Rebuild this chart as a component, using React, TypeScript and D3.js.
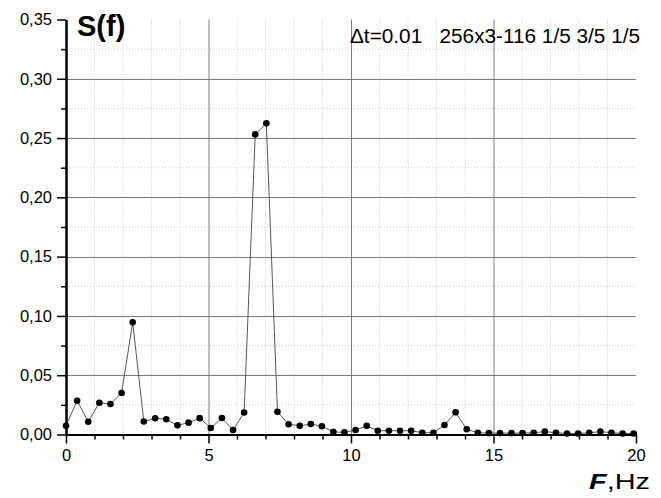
import * as d3 from 'd3';
import React, { useRef, useEffect } from 'react';

// spectrum S(f), df = 1/(256*0.01) Hz
const freqs = [
  0, 0.39, 0.78, 1.17, 1.56, 1.95, 2.34, 2.73, 3.13, 3.52, 3.91, 4.3, 4.69,
  5.08, 5.47, 5.86, 6.25, 6.64, 7.03, 7.42, 7.81, 8.2, 8.59, 8.98, 9.38, 9.77,
  10.16, 10.55, 10.94, 11.33, 11.72, 12.11, 12.5, 12.89, 13.28, 13.67, 14.06,
  14.45, 14.84, 15.23, 15.63, 16.02, 16.41, 16.8, 17.19, 17.58, 17.97, 18.36,
  18.75, 19.14, 19.53, 19.92,
];
const spectrum = [
  0.0074, 0.0285, 0.0108, 0.0268, 0.0257, 0.035, 0.0946, 0.011, 0.0137,
  0.0128, 0.0077, 0.01, 0.0138, 0.0055, 0.0139, 0.0037, 0.0186, 0.2531,
  0.2624, 0.0191, 0.0086, 0.0073, 0.0088, 0.007, 0.0022, 0.0018, 0.0038,
  0.0073, 0.0032, 0.0032, 0.0032, 0.0032, 0.0015, 0.0015, 0.008, 0.0187,
  0.0044, 0.0015, 0.0012, 0.0012, 0.0012, 0.0012, 0.0015, 0.0024, 0.0015,
  0.0009, 0.0009, 0.0015, 0.0024, 0.0015, 0.0009, 0.0009,
];
const xMajor = [0, 5, 10, 15, 20];
const xMinor = [1, 2, 3, 4, 6, 7, 8, 9, 11, 12, 13, 14, 16, 17, 18, 19];
const yMajor = [0, 0.05, 0.1, 0.15, 0.2, 0.25, 0.3, 0.35];
const yMinor = [0.025, 0.075, 0.125, 0.175, 0.225, 0.275, 0.325];

const W = 661;
const H = 498;
const FONT = "Arial, 'Liberation Sans', sans-serif";

function Chart() {
  const ref = useRef<SVGSVGElement>(null);

  useEffect(() => {
    const svg = d3.select(ref.current);
    svg.selectAll('*').remove();

    const x = d3.scaleLinear().domain([0, 20]).range([66, 636]);
    const y = d3.scaleLinear().domain([0, 0.35]).range([434.5, 19.5]);
    const fmt = d3
      .formatLocale({ decimal: ',', thousands: ' ', grouping: [3], currency: ['', ''] })
      .format('.2f');

    // minor dotted grid
    const g = svg.append('g');
    g.selectAll('.vmin')
      .data(xMinor)
      .enter()
      .append('line')
      .attr('x1', d => x(d))
      .attr('x2', d => x(d))
      .attr('y1', y(0.35))
      .attr('y2', y(0))
      .attr('stroke', '#c8c8c8')
      .attr('stroke-dasharray', '1,2');
    g.selectAll('.hmin')
      .data(yMinor)
      .enter()
      .append('line')
      .attr('x1', x(0))
      .attr('x2', x(20))
      .attr('y1', d => y(d))
      .attr('y2', d => y(d))
      .attr('stroke', '#c8c8c8')
      .attr('stroke-dasharray', '1,2');

    // major grid
    g.selectAll('.vmaj')
      .data([5, 10, 15])
      .enter()
      .append('line')
      .attr('x1', d => x(d) + 0.5)
      .attr('x2', d => x(d) + 0.5)
      .attr('y1', y(0.35))
      .attr('y2', y(0))
      .attr('stroke', '#7a7a7a');
    g.selectAll('.hmaj')
      .data([0.05, 0.1, 0.15, 0.2, 0.25, 0.3])
      .enter()
      .append('line')
      .attr('x1', x(0))
      .attr('x2', x(20))
      .attr('y1', d => Math.round(y(d)) + 0.5)
      .attr('y2', d => Math.round(y(d)) + 0.5)
      .attr('stroke', '#7a7a7a');

    // data line + points
    const pts = freqs.map((f, i) => [f, spectrum[i]] as [number, number]);
    const line = d3
      .line<[number, number]>()
      .x(d => x(d[0]))
      .y(d => y(d[1]));
    svg
      .append('path')
      .datum(pts)
      .attr('d', line)
      .attr('fill', 'none')
      .attr('stroke', '#555')
      .attr('stroke-width', 1);
    svg
      .append('g')
      .selectAll('circle')
      .data(pts)
      .enter()
      .append('circle')
      .attr('cx', d => x(d[0]))
      .attr('cy', d => y(d[1]))
      .attr('r', 3.3)
      .attr('fill', '#000');

    // axes
    const styleAxis = sel => {
      sel.select('.domain').attr('stroke', '#000').attr('stroke-width', 2);
      sel.selectAll('.tick line').attr('stroke', '#000').attr('stroke-width', 1.5);
      sel.selectAll('text').attr('font-family', FONT).attr('font-size', 16.5).attr('fill', '#000');
    };
    svg
      .append('g')
      .attr('transform', `translate(0,${y(0)})`)
      .call(d3.axisBottom(x).tickValues(xMinor).tickSize(5).tickSizeOuter(0).tickFormat(() => ''))
      .call(styleAxis);
    svg
      .append('g')
      .attr('transform', `translate(0,${y(0)})`)
      .call(d3.axisBottom(x).tickValues(xMajor).tickSize(9).tickSizeOuter(0).tickPadding(6).tickFormat(d3.format('d')))
      .call(styleAxis);
    svg
      .append('g')
      .attr('transform', `translate(${x(0)},0)`)
      .call(d3.axisLeft(y).tickValues(yMinor).tickSize(5).tickSizeOuter(0).tickFormat(() => ''))
      .call(styleAxis);
    svg
      .append('g')
      .attr('transform', `translate(${x(0)},0)`)
      .call(d3.axisLeft(y).tickValues(yMajor).tickSize(9).tickSizeOuter(0).tickPadding(5).tickFormat(d => fmt(+d)))
      .call(styleAxis);

    // titles
    svg
      .append('text')
      .attr('x', 77)
      .attr('y', 36)
      .attr('font-family', FONT)
      .attr('font-weight', 'bold')
      .attr('font-size', 29)
      .text('S(f)');
    svg
      .append('text')
      .attr('x', 350)
      .attr('y', 43)
      .attr('font-family', FONT)
      .attr('font-size', 20)
      .attr('textLength', 290)
      .attr('lengthAdjust', 'spacingAndGlyphs')
      .style('white-space', 'pre')
      .text('\u0394t=0.01   256x3-116 1/5 3/5 1/5');
    const xl = svg
      .append('text')
      .attr('x', 589)
      .attr('y', 489)
      .attr('font-family', FONT)
      .attr('font-size', 22)
      .attr('textLength', 61)
      .attr('lengthAdjust', 'spacingAndGlyphs');
    xl.append('tspan').attr('font-weight', 'bold').attr('font-style', 'italic').text('F');
    xl.append('tspan').text(',Hz');
  }, []);

  return <svg ref={ref} width={W} height={H} style={{ position: 'absolute', left: 0, top: 0, background: '#fff' }} />;
}

export default function App() {
  return <Chart />;
}
